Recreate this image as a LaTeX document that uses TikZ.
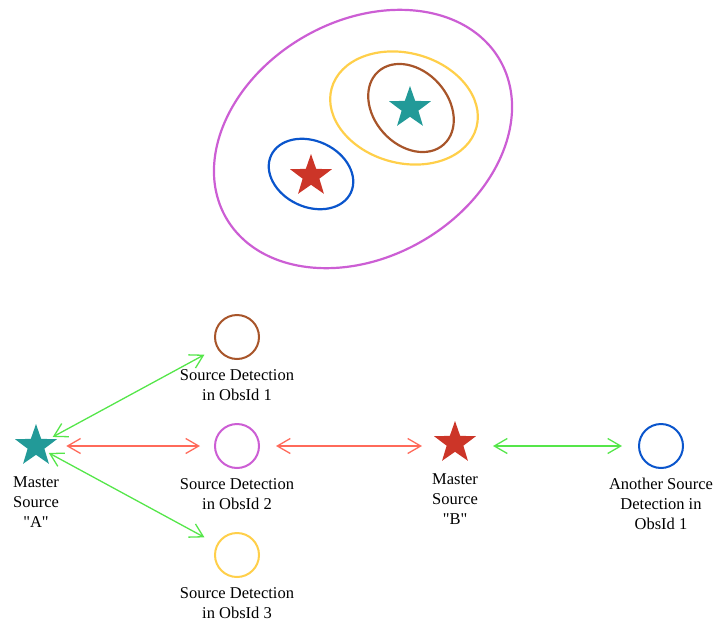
\documentclass[tikz,border=0pt]{standalone}
\usepackage{fontspec}
\setmainfont{Liberation Serif}
\usetikzlibrary{positioning, arrows.meta, shapes.geometric}

\definecolor{cgreen}{HTML}{55E64A}
\definecolor{cred}{HTML}{FF6A5A}
\definecolor{cbrown}{HTML}{A8552A}
\definecolor{cmagenta}{HTML}{CC5ED4}
\definecolor{cyellow}{HTML}{FFCF4A}
\definecolor{cblue}{HTML}{0A55CC}
\definecolor{cteal}{HTML}{229A98}
\definecolor{cstarred}{HTML}{CC3528}

\begin{document}
\begin{tikzpicture}[
  x=1pt, y=1pt,
  node distance=9pt and 10pt,
  mstar/.style={star, star points=5, star point ratio=2.5, minimum size=44pt, inner sep=0pt, draw=none},
  det/.style={circle, draw, line width=2pt, minimum size=44pt, inner sep=0pt},
  lbl/.style={align=center, inner sep=0pt, font=\fontsize{16.5}{20}\selectfont},
  ring/.style={line width=2.2pt},
  link/.style={{Straight Barb[length=13pt,width=15pt]}-{Straight Barb[length=13pt,width=15pt]}, line width=1.3pt}
]
  \useasboundingbox (0,0) rectangle (717,-621);

  % sky picture
  \draw[ring, cmagenta] (363,-139) ellipse[x radius=158, y radius=118, rotate=30];
  \draw[ring, cyellow] (404,-108) ellipse[x radius=75, y radius=55, rotate=-15];
  \draw[ring, cbrown] (411,-108) ellipse[x radius=49, y radius=37, rotate=-48];
  \draw[ring, cblue] (311,-174) ellipse[x radius=44, y radius=33, rotate=-25];
  \node[mstar, fill=cteal] (skyA) at (410,-108) {};
  \node[mstar, fill=cstarred] (skyB) at (311,-176) {};

  % matching graph
  \node[mstar, fill=cteal] (srcA) at (36,-446) {};
  \node[det, draw=cbrown] (obs1) at (237,-337) {};
  \node[det, draw=cmagenta] (obs2) at (237,-446) {};
  \node[det, draw=cyellow] (obs3) at (237,-555) {};
  \node[mstar, fill=cstarred] (srcB) at (455,-443) {};
  \node[det, draw=cblue] (other) at (661,-446) {};

  \node[lbl, below=21pt of srcA] (labA) {Master\\Source\\\textquotedbl A\textquotedbl};
  \node[lbl, below=of obs1] (lab1) {Source Detection\\in ObsId 1};
  \node[lbl, below=of obs2] (lab2) {Source Detection\\in ObsId 2};
  \node[lbl, below=of obs3] (lab3) {Source Detection\\in ObsId 3};
  \node[lbl, below=21pt of srcB] (labB) {Master\\Source\\\textquotedbl B\textquotedbl};
  \node[lbl, below=of other] (labO) {Another Source\\Detection in\\ObsId 1};

  \draw[link, cgreen, shorten <=4pt, shorten >=14pt] (srcA) -- (obs1);
  \draw[link, cred, shorten <=18pt, shorten >=14pt] (srcA) -- (obs2);
  \draw[link, cgreen, shorten <=4pt, shorten >=14pt] (srcA) -- (obs3);
  \draw[link, cred, shorten <=16pt, shorten >=33pt] (obs2) -- (obs2 -| srcB);
  \draw[link, cgreen, shorten <=38pt, shorten >=16pt] (other -| srcB) -- (other);
\end{tikzpicture}
\end{document}
